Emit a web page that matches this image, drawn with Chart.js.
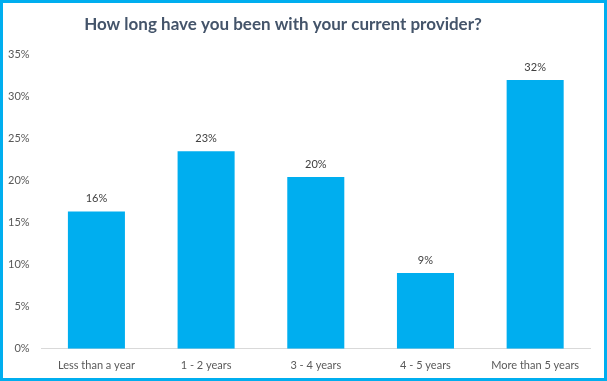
<!DOCTYPE html>
<html><head><meta charset="utf-8">
<script src="https://cdn.jsdelivr.net/npm/chart.js@4/dist/chart.umd.min.js"></script>
<style>
html,body{margin:0;padding:0;background:#fff;}
#wrap{width:607px;height:381px;box-sizing:border-box;border:3px solid #00AEEF;position:relative;background:#fff;}
canvas{display:block;}
</style></head><body>
<div id="wrap"><canvas id="c" width="601" height="375"></canvas></div>
<script>
const titleText = "How long have you been with your current provider?";
const categories = ["Less than a year", "1 - 2 years", "3 - 4 years", "4 - 5 years", "More than 5 years"];
const values = [16.3, 23.45, 20.4, 9.0, 31.9];
const yTicks = [0, 5, 10, 15, 20, 25, 30, 35];

const barColor = "#00AEEF";
const textColor = "#595959";

const titlePlugin = {
  id: 'customTitle',
  afterDraw(chart) {
    const ctx = chart.ctx;
    ctx.save();
    ctx.font = "bold 17px Lato";
    ctx.fillStyle = "#44546A";
    ctx.textAlign = "center";
    ctx.textBaseline = "middle";
    ctx.fillText(titleText, 280, 22);
    ctx.restore();
  }
};
const labelPlugin = {
  id: 'barLabels',
  afterDatasetsDraw(chart) {
    const ctx = chart.ctx;
    const meta = chart.getDatasetMeta(0);
    ctx.save();
    ctx.font = "11px Lato";
    ctx.fillStyle = "#404040";
    ctx.textAlign = "center";
    ctx.textBaseline = "middle";
    meta.data.forEach((bar, i) => {
      ctx.fillText(Math.round(values[i]) + "%", bar.x, bar.y - 13);
    });
    ctx.restore();
  }
};

new Chart(document.getElementById('c'), {
  type: 'bar',
  data: {
    labels: categories,
    datasets: [{
      data: values,
      backgroundColor: barColor,
      borderWidth: 0,
      categoryPercentage: 1.0,
      barPercentage: 0.52
    }]
  },
  options: {
    responsive: false,
    animation: false,
    layout: { padding: { top: 51, left: -7, right: 14, bottom: -4 } },
    plugins: { legend: { display: false }, tooltip: { enabled: false }, title: { display: false } },
    scales: {
      x: {
        grid: { display: false, drawTicks: false },
        border: { display: true, color: "#D9D9D9", width: 1 },
        ticks: { color: textColor, font: { family: "Lato", size: 11 }, padding: 10, maxRotation: 0 }
      },
      y: {
        min: 0, max: 35,
        afterBuildTicks(axis) { axis.ticks = yTicks.map(v => ({ value: v })); },
        grid: { display: false, drawTicks: false },
        border: { display: false },
        ticks: { color: textColor, font: { family: "Lato", size: 11 }, padding: 12, callback: v => v + "%" }
      }
    }
  },
  plugins: [titlePlugin, labelPlugin]
});
</script>
</body></html>
